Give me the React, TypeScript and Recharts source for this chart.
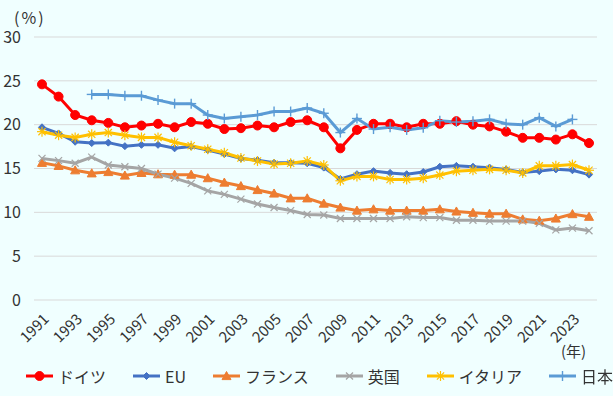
import { CartesianGrid, Line, LineChart, XAxis, YAxis } from 'recharts';

const years = Array.from({ length: 34 }, (_, i) => String(1991 + i));

const germany = [24.6, 23.2, 21.1, 20.5, 20.2, 19.7, 19.9, 20.1, 19.7, 20.3, 20.1, 19.5, 19.6, 19.9, 19.7, 20.3, 20.5, 19.7, 17.3, 19.4, 20.1, 20.1, 19.7, 20.1, 20.1, 20.4, 20.0, 19.8, 19.2, 18.5, 18.5, 18.3, 18.9, 17.9];
const eu = [19.7, 19.0, 18.05, 17.9, 17.95, 17.55, 17.7, 17.7, 17.3, 17.5, 17.1, 16.65, 16.15, 15.95, 15.65, 15.65, 15.6, 15.1, 13.8, 14.35, 14.7, 14.5, 14.35, 14.6, 15.2, 15.3, 15.2, 15.1, 14.9, 14.55, 14.7, 14.9, 14.8, 14.3];
const france = [15.65, 15.3, 14.8, 14.45, 14.6, 14.2, 14.5, 14.35, 14.3, 14.3, 13.9, 13.4, 13.0, 12.55, 12.15, 11.6, 11.6, 11.0, 10.55, 10.2, 10.35, 10.2, 10.2, 10.2, 10.35, 10.1, 9.95, 9.85, 9.85, 9.2, 9.05, 9.3, 9.8, 9.5];
const uk = [16.15, 15.9, 15.6, 16.3, 15.4, 15.2, 15.0, 14.35, 13.9, 13.3, 12.45, 12.05, 11.5, 10.95, 10.55, 10.2, 9.75, 9.7, 9.3, 9.3, 9.3, 9.3, 9.5, 9.4, 9.4, 9.1, 9.1, 9.0, 9.0, 9.0, 8.75, 8.0, 8.2, 7.9];
const italy = [19.2, 18.8, 18.55, 18.9, 19.1, 18.8, 18.55, 18.55, 18.0, 17.6, 17.2, 16.8, 16.2, 15.85, 15.5, 15.6, 15.85, 15.4, 13.6, 14.1, 14.1, 13.75, 13.75, 13.9, 14.25, 14.7, 14.8, 14.9, 14.8, 14.5, 15.3, 15.3, 15.45, 14.8];
const japan = [null, null, null, 23.45, 23.45, 23.3, 23.3, 22.8, 22.4, 22.4, 21.1, 20.7, 20.9, 21.1, 21.5, 21.5, 21.9, 21.3, 19.1, 20.7, 19.5, 19.7, 19.4, 19.65, 20.45, 20.3, 20.4, 20.6, 20.1, 20.0, 20.8, 19.8, 20.6, null];

const yTicks = [0, 5, 10, 15, 20, 25, 30];

const series = [
  { key: 'de', name: 'ドイツ', color: '#ff0000', shape: 'circle', values: germany },
  { key: 'eu', name: 'EU', color: '#4472c4', shape: 'diamond', values: eu },
  { key: 'fr', name: 'フランス', color: '#ed7d31', shape: 'triangle', values: france },
  { key: 'uk', name: '英国', color: '#a5a5a5', shape: 'x', values: uk },
  { key: 'it', name: 'イタリア', color: '#ffc000', shape: 'star', values: italy },
  { key: 'jp', name: '日本', color: '#5b9bd5', shape: 'plus', values: japan },
];

const data = years.map((year, i) => {
  const row: Record<string, any> = { year };
  series.forEach(s => { row[s.key] = s.values[i]; });
  return row;
});

const font = '"Noto Sans CJK JP", "Noto Sans", sans-serif';
const textColor = '#333';

function Marker({ cx, cy, shape, color }: { cx: number; cy: number; shape: string; color: string }) {
  if (shape === 'circle') return <circle cx={cx} cy={cy} r={4.5} fill={color} stroke={color} />;
  if (shape === 'diamond') {
    const r = 3.5;
    return <polygon points={`${cx},${cy - r} ${cx + r},${cy} ${cx},${cy + r} ${cx - r},${cy}`} fill={color} stroke={color} />;
  }
  if (shape === 'triangle') {
    const r = 4.5;
    return <polygon points={`${cx},${cy - r} ${cx + r},${cy + r * 0.8} ${cx - r},${cy + r * 0.8}`} fill={color} stroke={color} />;
  }
  if (shape === 'x') {
    const r = 3.5;
    return (
      <g stroke={color} strokeWidth={1.2}>
        <line x1={cx - r} y1={cy - r} x2={cx + r} y2={cy + r} />
        <line x1={cx - r} y1={cy + r} x2={cx + r} y2={cy - r} />
      </g>
    );
  }
  if (shape === 'star') {
    const r = 5;
    const d = r * 0.72;
    return (
      <g stroke={color} strokeWidth={1.2}>
        <line x1={cx - r} y1={cy} x2={cx + r} y2={cy} />
        <line x1={cx} y1={cy - r} x2={cx} y2={cy + r} />
        <line x1={cx - d} y1={cy - d} x2={cx + d} y2={cy + d} />
        <line x1={cx - d} y1={cy + d} x2={cx + d} y2={cy - d} />
      </g>
    );
  }
  const r = 5;
  return (
    <g stroke={color} strokeWidth={1.4}>
      <line x1={cx - r} y1={cy} x2={cx + r} y2={cy} />
      <line x1={cx} y1={cy - r} x2={cx} y2={cy + r} />
    </g>
  );
}

function XTick({ x, y, payload }: any) {
  const ax = x + 8;
  const ay = y + 18;
  return (
    <text x={ax} y={ay} transform={`rotate(-45 ${ax} ${ay})`} textAnchor="end" fontSize={15} fill={textColor} fontFamily={font}>
      {payload.value}
    </text>
  );
}

export default function App() {
  return (
    <div style={{ position: 'fixed', left: 0, top: 0, width: 613, height: 396, background: '#f0ffff', fontFamily: font }}>
      <LineChart width={613} height={396} data={data} margin={{ top: 37, right: 16, bottom: 36, left: 0 }}>
        <CartesianGrid vertical={false} stroke="#d9d9d9" strokeWidth={1} />
        <XAxis dataKey="year" axisLine={false} tickLine={false} tickSize={0} height={60} interval={1}
          padding={{ left: 8, right: 8 }} tick={<XTick />} />
        <YAxis domain={[0, 30]} ticks={yTicks} width={34} axisLine={false} tickLine={false} tickSize={0} tickMargin={13}
          tick={{ fontSize: 16, fill: textColor, fontFamily: font }} />
        {series.map(s => (
          <Line key={s.key} dataKey={s.key} name={s.name} stroke={s.color} strokeWidth={3} isAnimationActive={false}
            dot={(p: any) => (p.cx == null || p.value == null
              ? <g key={`${s.key}-${p.index}`} />
              : <Marker key={`${s.key}-${p.index}`} cx={p.cx} cy={p.cy} shape={s.shape} color={s.color} />)}
            activeDot={false} />
        ))}
      </LineChart>
      <div style={{ position: 'absolute', left: 14, top: 5, fontSize: 16, letterSpacing: 2, color: textColor }}>(%)</div>
      <div style={{ position: 'absolute', left: 561, top: 340, fontSize: 15, color: textColor }}>(年)</div>
      <div style={{ position: 'absolute', left: 26, top: 364, display: 'flex', gap: 27, alignItems: 'center' }}>
        {series.map(s => (
          <div key={s.key} style={{ display: 'flex', alignItems: 'center', gap: 5, fontSize: 16, color: textColor }}>
            <svg width={27} height={12}>
              <line x1={0} y1={6} x2={27} y2={6} stroke={s.color} strokeWidth={3} />
              <Marker cx={13.5} cy={6} shape={s.shape} color={s.color} />
            </svg>
            <span>{s.name}</span>
          </div>
        ))}
      </div>
    </div>
  );
}
